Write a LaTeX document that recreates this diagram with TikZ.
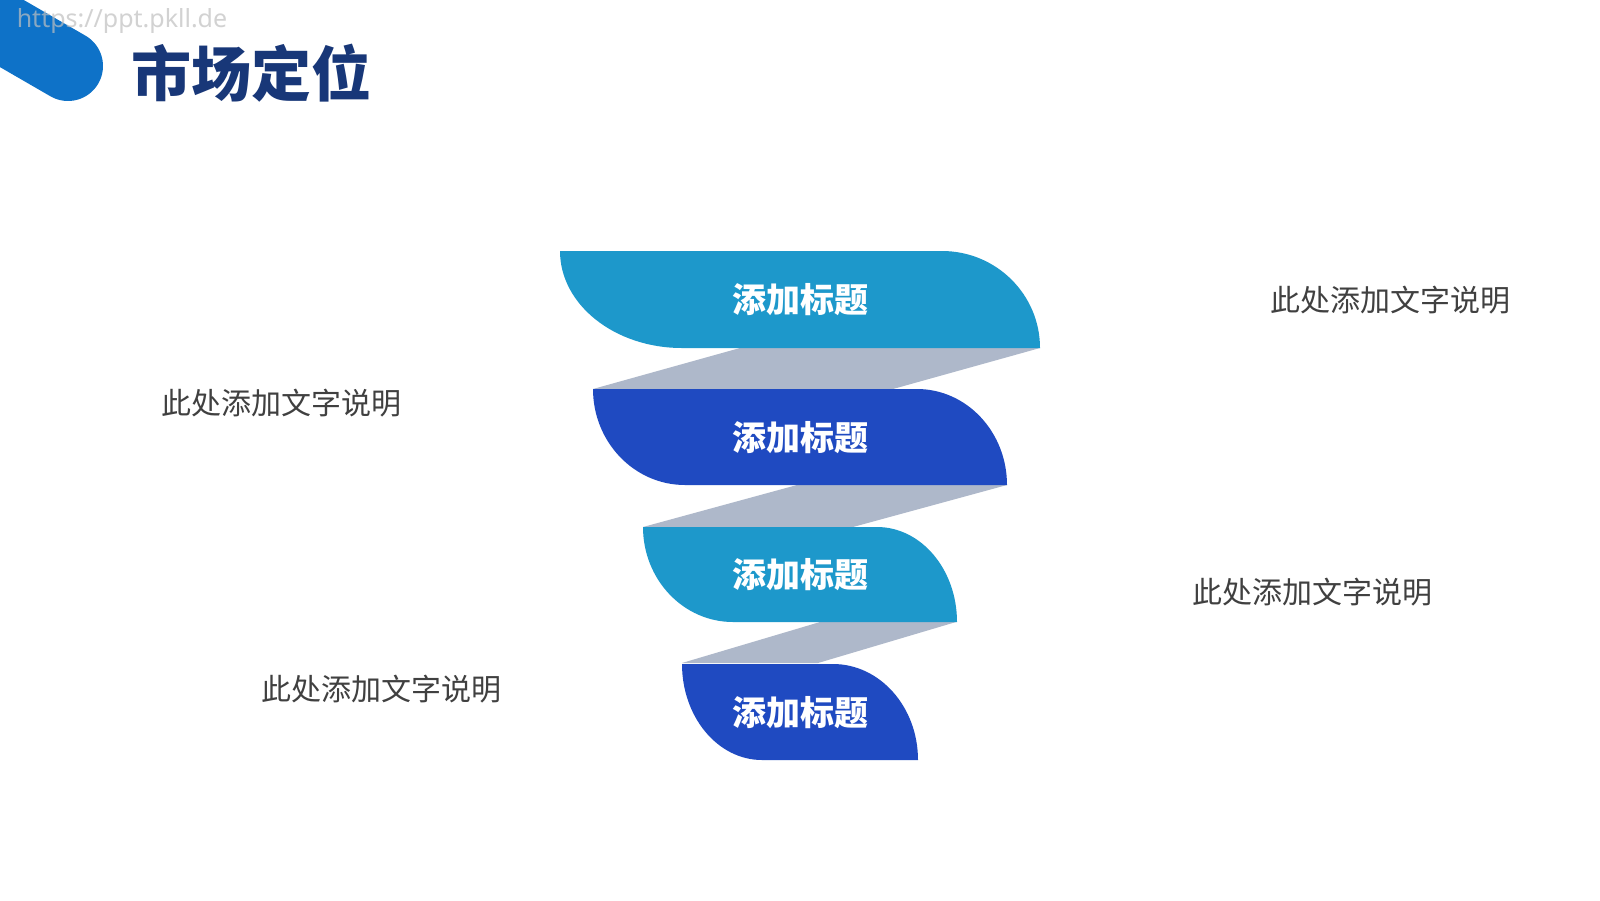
\documentclass[tikz,border=0pt]{standalone}
\usepackage{fontspec}
\newfontfamily\cjk{Noto Sans CJK SC}
\newfontfamily\wmfont{Noto Sans}
\definecolor{lightblue}{RGB}{29,152,203}
\definecolor{darkblue}{RGB}{31,74,193}
\definecolor{bandgray}{RGB}{174,184,202}
\definecolor{titlenavy}{RGB}{24,55,120}
\definecolor{logoblue}{RGB}{14,114,200}
\definecolor{desctext}{RGB}{64,64,64}
\newcommand{\leafshape}[7]{%
  \fill[#7] (#1,#2) .. controls (#1,{#2+0.5523*(#4-#2)}) and ({#1+0.4477*#5},#4) .. ({#1+#5},#4)
    -- (#3,#4) .. controls (#3,{#4-0.5523*(#4-#2)}) and ({#3-0.4477*#6},#2) .. ({#3-#6},#2) -- cycle;}
\tikzset{
  band/.style={fill=bandgray},
  leaflabel/.style={text=white, font=\cjk\bfseries\fontsize{34}{34}\selectfont, inner sep=0pt},
  desc/.style={text=desctext, font=\cjk\fontsize{30}{30}\selectfont, inner sep=0pt},
}
\begin{document}
\begin{tikzpicture}[x=1pt,y=-1pt]
\useasboundingbox[fill=white] (0,0) rectangle (1600,900);
% logo
\draw[logoblue, line width=70pt, line cap=round] (-60,-8) -- (68,66);
\node[inner sep=0pt, text=gray!50, opacity=0.7, font=\wmfont\bfseries\fontsize{25}{25}\selectfont] (wm) at (122,21) {https://ppt.pkll.de};
% title
\node[inner sep=0pt, text=titlenavy, font=\cjk\bfseries\fontsize{60}{60}\selectfont] (title) at (251,73) {市场定位};
% bands
\fill[band] (740,348) -- (1040,348) -- (893,389) -- (593,389) -- cycle;
\fill[band] (797,485) -- (1007,485) -- (853,527) -- (643,527) -- cycle;
\fill[band] (820,622) -- (956,622) -- (818,663) -- (682,663) -- cycle;
% leaves
\leafshape{560}{251}{1040}{348}{122}{98}{lightblue}
\leafshape{593}{389}{1007}{485}{92}{90}{darkblue}
\leafshape{643}{527}{957}{622}{90}{80}{lightblue}
\leafshape{682}{664}{918}{760}{80}{85}{darkblue}
% labels
\node[leaflabel] (l1) at (800,300) {添加标题};
\node[leaflabel] (l2) at (800,438) {添加标题};
\node[leaflabel] (l3) at (800,575) {添加标题};
\node[leaflabel] (l4) at (800,713) {添加标题};
% descriptions
\node[desc] (d1) at (1390,300) {此处添加文字说明};
\node[desc] (d2) at (281,403) {此处添加文字说明};
\node[desc] (d3) at (1312,592) {此处添加文字说明};
\node[desc] (d4) at (381,689) {此处添加文字说明};
\end{tikzpicture}
\end{document}
